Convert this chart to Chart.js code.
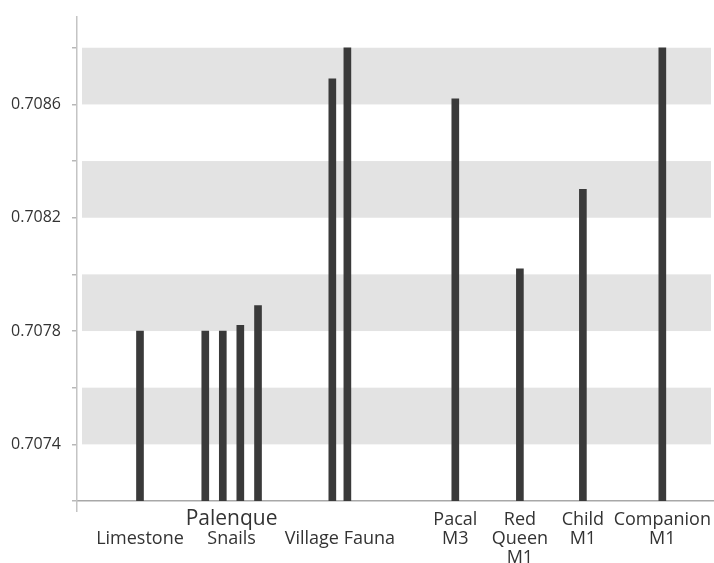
<!DOCTYPE html>
<html>
<head>
<meta charset="utf-8">
<script src="https://cdn.jsdelivr.net/npm/chart.js@4"></script>
<style>
  html, body { margin: 0; padding: 0; background: #ffffff; }
  canvas { display: block; }
</style>
</head>
<body>
<canvas id="c" width="714" height="563"></canvas>
<script>
// 87Sr/86Sr ratios of local baseline samples and the Palenque burials
const sampleNames = ['Limestone', 'Snail 1', 'Snail 2', 'Snail 3', 'Snail 4',
  'Village Fauna 1', 'Village Fauna 2', 'Pacal M3', 'Red Queen M1', 'Child M1', 'Companion M1'];
const sampleSlots = [3.56, 7.25, 8.24, 9.23, 10.23, 14.43, 15.28, 21.38, 25.03, 28.59, 33.08];
const srRatios = [0.70780, 0.70780, 0.70780, 0.70782, 0.70789, 0.70869, 0.70880,
  0.70862, 0.70802, 0.70830, 0.70880];

// category captions under the axis, and which samples each one covers
const groupLines = [['', 'Limestone'], ['Palenque', 'Snails'], ['', 'Village Fauna'],
  ['Pacal', 'M3'], ['Red', 'Queen', 'M1'], ['Child', 'M1'], ['Companion', 'M1']];
const groupMembers = [[0], [1, 2, 3, 4], [5, 6], [7], [8], [9], [10]];
const headingGroup = 1;

// y axis ticks and the shaded bands between them
const yTickValues = [0.7072, 0.7074, 0.7076, 0.7078, 0.7080, 0.7082, 0.7084, 0.7086, 0.7088];
const yTickLabels = ['', '0.7074', '', '0.7078', '', '0.7082', '', '0.7086', ''];
const bandLows = [0.7074, 0.7078, 0.7082, 0.7086];
const bandHighs = [0.7076, 0.7080, 0.7084, 0.7088];

const FONT = '"Open Sans", "DejaVu Sans", sans-serif';
const TEXT = '#333333';
const LINE_BASELINES = [24, 43, 61.5];

const bandsPlugin = {
  id: 'bands',
  beforeDatasetsDraw(chart) {
    const { ctx, chartArea } = chart;
    const y = chart.scales.y;
    ctx.save();
    ctx.fillStyle = '#e3e3e3';
    bandLows.forEach((lo, i) => {
      const top = y.getPixelForValue(bandHighs[i]);
      const bottom = y.getPixelForValue(lo);
      ctx.fillRect(chartArea.left + 5, top, chartArea.right - 3 - (chartArea.left + 5), bottom - top);
    });
    ctx.restore();
  }
};

const captionsPlugin = {
  id: 'captions',
  afterDraw(chart) {
    const { ctx, chartArea } = chart;
    const x = chart.scales.x;
    ctx.save();
    ctx.fillStyle = TEXT;
    ctx.textAlign = 'center';
    ctx.textBaseline = 'alphabetic';
    groupLines.forEach((lines, g) => {
      const members = groupMembers[g];
      const mean = members.reduce((s, m) => s + sampleSlots[m], 0) / members.length;
      const cx = x.getPixelForValue(mean);
      lines.forEach((text, i) => {
        if (!text) return;
        const heading = (g === headingGroup && i === 0);
        ctx.font = (heading ? '21px ' : '18px ') + FONT;
        ctx.fillText(text, cx, chartArea.bottom + LINE_BASELINES[i]);
      });
    });
    ctx.restore();
  }
};

new Chart(document.getElementById('c'), {
  type: 'bar',
  data: {
    datasets: [{
      label: '87Sr/86Sr',
      data: sampleSlots.map((s, i) => ({ x: s, y: srRatios[i] })),
      backgroundColor: '#3a3a3a',
      borderWidth: 0,
      barThickness: 7
    }]
  },
  options: {
    responsive: false,
    animation: false,
    layout: { padding: { top: 11, right: 0, bottom: 0, left: 0 } },
    plugins: { legend: { display: false }, tooltip: { enabled: false } },
    scales: {
      x: {
        type: 'linear',
        min: 0,
        max: 36,
        offset: false,
        afterBuildTicks(scale) { scale.ticks = [{ value: 0 }]; },
        afterFit(scale) { scale.height = 62; },
        ticks: { display: false },
        grid: {
          offset: false,
          drawOnChartArea: false,
          drawTicks: true,
          tickLength: 11,
          tickColor: '#c4c4c4',
          lineWidth: 1.5
        },
        border: { display: true, color: '#a8a8a8', width: 1.5 }
      },
      y: {
        type: 'linear',
        min: 0.7072,
        max: 0.70891,
        afterBuildTicks(scale) { scale.ticks = yTickValues.map(v => ({ value: v })); },
        afterFit(scale) { scale.width = 77; },
        ticks: {
          padding: 7,
          color: TEXT,
          font: { family: FONT, size: 16 },
          callback(value, index) { return yTickLabels[index]; }
        },
        grid: {
          drawOnChartArea: false,
          drawTicks: true,
          tickLength: 9,
          tickColor: '#b8b8b8',
          tickBorderDash: [5, 4],
          tickBorderDashOffset: 5,
          lineWidth: 1.5
        },
        border: { display: true, color: '#c4c4c4', width: 1.5 }
      }
    }
  },
  plugins: [bandsPlugin, captionsPlugin]
});
</script>
</body>
</html>
